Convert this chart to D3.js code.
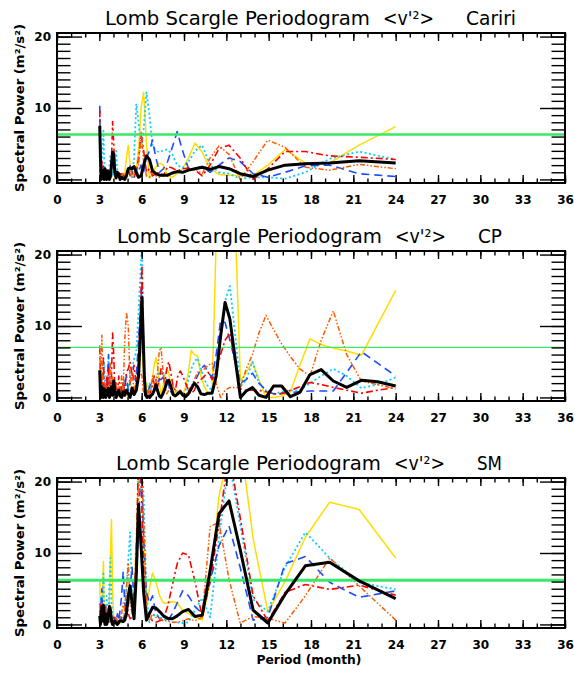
<!DOCTYPE html>
<html>
<head>
<meta charset="utf-8">
<script src="https://cdn.jsdelivr.net/npm/d3@7"></script>
<style>
  body { margin: 0; background: #fff; }
  svg { display: block; }
  .tick text { font-family: 'DejaVu Sans', sans-serif; font-weight: bold; font-size: 12px; fill: #000; }
</style>
</head>
<body>
<svg id="chart" width="574" height="673"></svg>
<script>
'use strict';

// period grid (months) of the Cariri and SM periodograms
var periodsA = [
    3.03,3.08,3.13,3.18,3.23,3.29,3.34,3.40,3.46,3.52,
    3.58,3.65,3.72,3.79,3.86,3.94,4.02,4.10,4.19,4.28,
    4.38,4.47,4.58,4.69,4.80,4.92,5.05,5.18,5.32,5.46,
    5.62,5.78,5.96,6.14,6.34,6.55,6.77,7.01,7.27,7.54,
    7.84,8.17,8.52,8.90,9.32,9.78,10.29,10.85,11.48,12.19,
    12.98,13.90,14.94,16.16,17.60,19.32,21.41,24.00
];

// period grid of the CP periodogram (longer record, finer spacing)
var periodsB = [
    3.03,3.08,3.13,3.18,3.23,3.29,3.34,3.40,3.46,3.52,
    3.58,3.65,3.72,3.79,3.86,3.94,4.02,4.10,4.19,4.28,
    4.38,4.47,4.58,4.69,4.80,4.92,5.05,5.18,5.32,5.46,
    5.62,5.78,
    6.02,6.10,6.19,6.28,6.38,6.47,6.57,6.68,6.78,6.89,
    7.01,7.12,7.25,7.37,7.50,7.64,7.78,7.92,8.07,8.23,
    8.39,8.56,8.73,8.92,9.11,9.31,9.51,9.73,9.96,10.20,
    10.45,10.71,10.99,11.28,11.59,11.91,12.25,12.62,13.00,13.41,
    13.85,14.31,14.81,15.35,15.92,16.54,17.21,17.93,18.72,19.58,
    20.53,21.57,22.72,24.00
];

var caririYellow = [
    0.5,0.2,0.3,0.8,0.5,0.2,0.0,0.5,1.0,0.3,
    0.4,0.2,0.0,0.8,0.3,0.5,1.2,0.5,0.2,0.3,
    0.5,0.0,0.3,0.8,0.8,3.0,4.8,2.0,0.3,0.8,
    1.5,4.0,10.0,12.2,5.0,0.2,0.8,1.8,2.3,2.0,
    0.6,0.3,0.8,1.5,3.0,5.1,3.8,1.5,0.7,0.6,
    0.5,0.6,2.0,4.2,2.3,2.3,4.8,7.4
];
var caririCyan = [
    3.3,1.0,0.3,2.0,4.0,6.8,3.0,0.5,1.5,0.3,
    0.8,0.2,2.0,3.5,1.0,0.5,1.5,3.0,4.0,1.0,
    0.5,0.2,1.0,0.5,0.3,1.0,1.5,0.8,0.3,3.0,
    10.6,8.0,4.2,7.0,12.2,9.0,4.7,4.0,3.8,4.1,
    4.2,3.5,2.0,1.6,2.5,4.0,4.8,2.0,1.0,0.8,
    0.1,0.3,0.3,0.1,1.0,2.9,3.9,2.8
];
var caririBlue = [
    10.3,3.0,0.5,1.0,0.3,2.0,1.0,0.2,0.5,1.5,
    0.3,0.5,1.0,0.2,3.0,2.5,1.0,0.5,1.5,0.3,
    0.5,0.2,0.8,0.3,1.0,0.5,1.2,2.0,1.0,0.5,
    1.5,1.0,2.0,1.0,3.0,4.0,5.5,3.0,1.0,1.5,
    2.5,4.5,6.7,4.0,1.5,1.5,1.8,1.0,2.0,3.0,
    2.5,0.8,0.3,1.0,1.9,2.0,0.8,0.4
];
var caririRed = [
    9.7,4.0,0.5,2.5,1.0,0.3,1.5,0.5,0.0,1.0,
    0.5,1.5,0.3,1.0,2.5,8.1,5.0,1.0,0.5,1.0,
    0.3,0.8,0.2,0.5,0.3,1.0,1.5,0.5,1.0,0.3,
    1.0,3.0,6.3,4.0,1.0,1.5,0.5,0.8,1.0,0.5,
    1.8,1.6,1.2,1.5,1.6,1.3,0.5,2.0,4.3,4.8,
    3.0,0.0,1.5,3.9,3.9,3.3,3.1,2.8
];
var caririOrange = [
    1.5,0.5,2.0,0.3,1.0,0.2,0.5,1.2,0.3,0.8,
    0.2,1.0,0.5,0.3,1.5,4.0,2.0,0.5,0.3,0.8,
    0.2,0.5,0.3,1.0,0.2,0.5,1.0,1.8,0.5,1.0,
    0.5,2.0,6.6,2.5,0.5,0.3,1.0,0.5,0.3,0.8,
    0.5,1.0,1.2,1.0,1.3,1.5,0.8,3.0,4.7,3.5,
    0.0,2.5,5.5,4.5,1.7,1.3,2.1,1.5
];
var caririMean = [
    7.5,3.0,0.0,0.5,1.3,0.2,0.0,1.5,0.5,0.0,
    1.2,0.8,0.0,0.5,2.0,3.8,3.5,1.0,0.2,1.0,
    0.8,0.0,0.3,0.1,0.0,0.5,1.5,1.6,1.5,1.8,
    1.0,0.3,0.5,2.0,3.3,2.8,1.2,0.8,0.6,0.6,
    0.6,0.9,1.1,1.0,1.3,1.5,1.7,1.4,1.8,1.5,
    0.8,0.4,1.3,2.0,2.2,2.3,2.6,2.3
];

var cpYellow = [
    2.0,4.5,1.0,0.5,2.0,0.8,0.3,1.5,0.5,0.2,
    1.0,0.3,2.0,0.8,0.3,1.5,0.5,0.2,1.0,0.5,
    0.3,1.0,0.5,2.0,0.8,0.3,1.2,2.5,0.8,1.5,
    2.0,3.0,
    8.0,4.0,1.5,1.0,2.0,1.5,0.5,1.5,3.0,4.5,
    5.6,4.5,2.0,0.5,1.5,3.0,4.0,3.5,1.5,1.0,
    0.5,1.0,0.8,0.3,1.5,3.5,6.6,6.0,5.8,3.0,
    1.5,0.5,0.9,22.0,28.0,30.0,30.0,25.0,2.3,3.5,
    5.0,2.5,0.0,0.0,0.2,0.8,4.5,8.2,7.4,6.9,
    6.5,5.9,10.2,15.0
];
var cpCyan = [
    1.0,0.5,2.5,1.0,0.3,3.0,5.0,2.0,0.5,1.5,
    3.0,5.5,4.0,1.0,0.5,2.0,1.0,0.3,1.5,0.8,
    0.5,1.5,0.3,1.0,2.5,1.5,0.8,3.0,4.0,5.3,
    6.5,12.0,
    22.0,10.0,3.0,0.5,0.3,1.0,2.0,1.0,0.5,1.5,
    2.5,3.0,3.5,3.7,3.5,2.5,2.0,1.5,0.8,0.5,
    0.3,0.8,1.0,0.5,1.0,2.5,4.0,5.0,5.5,4.0,
    2.5,1.5,1.0,4.0,9.0,13.5,15.6,9.0,1.5,2.5,
    5.0,2.0,1.0,0.5,0.8,1.0,1.0,2.0,3.0,4.0,
    3.0,1.3,1.8,2.8
];
var cpBlue = [
    1.5,0.5,3.0,1.0,0.5,2.0,1.0,0.3,1.5,0.5,
    3.0,6.0,2.0,0.5,1.0,2.5,1.5,0.5,1.0,0.3,
    0.8,0.3,1.5,0.5,2.0,3.0,1.0,2.0,3.5,2.5,
    3.0,8.0,
    16.0,8.0,2.0,0.5,0.3,1.0,1.5,2.0,2.5,2.0,
    1.5,2.0,2.5,2.5,2.8,3.0,2.5,1.5,0.8,0.5,
    0.3,0.5,0.8,0.5,0.3,0.5,1.0,2.0,3.0,4.0,
    4.5,3.5,2.8,6.0,10.7,10.5,8.0,5.0,2.0,2.5,
    3.4,2.0,1.0,0.5,0.6,0.7,0.8,0.9,0.9,0.9,
    3.5,6.4,4.8,3.0
];
var cpRed = [
    7.0,2.0,0.5,3.0,1.0,5.5,2.0,0.5,1.5,3.0,
    1.0,4.0,2.0,0.5,3.0,9.0,6.0,1.0,2.0,0.5,
    3.0,1.0,0.5,2.0,1.0,3.5,4.0,5.0,3.0,4.5,
    1.5,5.0,
    18.5,10.0,2.0,0.5,0.3,1.0,0.5,1.0,2.0,3.0,
    2.5,1.5,2.5,4.0,3.0,2.0,4.0,5.0,3.5,1.5,
    1.0,3.0,3.7,3.0,2.0,1.0,0.5,1.0,2.0,2.5,
    3.0,3.5,2.5,3.5,6.0,8.0,9.0,5.0,1.2,1.0,
    1.0,1.0,0.8,0.5,0.5,1.0,1.5,2.1,1.8,1.4,
    1.0,0.6,1.0,1.4
];
var cpOrange = [
    7.3,3.0,1.0,8.7,4.0,1.0,0.5,2.0,1.0,0.3,
    1.5,0.5,2.0,5.0,1.0,3.0,1.5,0.5,2.0,0.8,
    1.5,0.5,3.0,1.0,8.0,11.9,10.0,2.0,3.5,1.0,
    2.0,4.0,
    3.0,1.0,0.5,0.3,0.5,1.0,0.5,1.5,3.0,2.0,
    1.0,3.5,6.5,7.0,4.0,1.5,0.5,1.0,2.0,1.5,
    1.0,0.5,1.0,0.5,0.3,1.0,1.5,2.5,3.5,3.7,
    4.0,4.5,4.8,2.0,0.0,1.0,1.4,1.4,1.4,4.0,
    6.0,9.0,11.5,9.5,7.5,5.7,4.0,3.0,8.0,12.1,
    6.0,2.3,1.8,1.2
];
var cpMean = [
    3.8,0.5,0.0,1.5,0.3,0.0,1.2,0.2,0.0,1.0,
    0.3,1.3,0.0,0.5,1.5,0.3,2.3,1.0,0.0,0.5,
    1.0,0.2,0.0,0.8,0.3,1.0,0.5,0.0,1.3,0.4,
    1.0,3.0,
    14.0,9.0,3.0,0.3,0.0,0.2,0.0,0.3,0.5,1.0,
    1.8,1.0,0.2,0.0,0.5,1.2,2.2,2.4,1.5,0.4,
    0.2,0.5,0.8,0.3,0.1,0.5,1.2,2.0,1.5,0.5,
    0.4,0.6,0.6,3.0,8.5,13.3,11.0,5.5,0.0,0.9,
    1.4,0.3,0.0,1.6,1.6,0.1,0.7,3.2,3.9,2.3,
    1.4,2.4,2.2,1.6
];

var smYellow = [
    6.4,1.0,3.0,3.0,5.0,8.8,2.0,0.5,1.5,0.3,
    2.0,0.5,4.0,10.0,14.7,5.0,0.5,0.3,0.0,0.2,
    0.0,0.2,0.5,0.3,0.8,2.0,3.5,4.0,2.0,5.0,
    12.0,22.0,24.0,12.0,2.0,5.0,7.2,6.0,4.0,3.0,
    3.0,3.2,3.0,2.0,1.5,1.0,0.6,6.0,18.0,24.0,
    26.0,12.0,1.8,6.0,12.2,17.1,16.1,9.3
];
var smCyan = [
    3.0,1.0,4.0,2.0,3.0,7.4,1.5,0.5,2.0,4.0,
    2.0,1.0,6.0,9.3,3.0,1.0,0.5,0.2,0.5,0.3,
    0.5,1.0,0.3,0.8,2.0,5.0,9.0,12.9,4.0,2.0,
    8.0,22.0,24.0,18.0,4.0,0.3,1.0,1.5,1.0,0.8,
    0.5,0.3,0.3,0.2,0.3,2.0,3.7,1.0,12.0,23.0,
    14.0,3.5,1.8,8.0,12.9,9.3,5.9,4.9
];
var smBlue = [
    2.0,0.5,3.0,5.0,1.0,2.5,0.5,3.0,1.5,0.3,
    1.0,2.0,0.5,1.0,0.3,0.5,1.0,0.8,0.3,1.5,
    0.5,2.0,4.0,7.4,3.0,1.0,2.5,5.0,8.0,3.0,
    6.0,14.0,23.0,12.0,4.5,3.0,4.0,1.5,0.8,0.5,
    0.5,1.5,3.0,4.7,4.0,2.5,1.5,6.0,11.0,13.8,
    8.0,0.6,1.0,8.5,9.5,5.9,3.8,4.7
];
var smRed = [
    1.0,3.0,0.5,2.0,0.8,0.3,1.5,0.5,2.5,0.5,
    1.0,0.3,2.0,0.5,1.0,0.3,0.5,1.0,0.3,0.5,
    0.2,0.5,1.0,0.5,1.5,3.0,1.5,0.8,1.0,3.0,
    10.0,24.0,20.0,8.0,2.0,1.0,0.5,0.3,0.5,0.8,
    2.5,5.5,8.5,10.0,9.7,6.0,1.0,6.0,14.0,24.0,
    15.0,4.0,0.5,4.5,5.6,4.9,5.5,4.1
];
var smOrange = [
    0.5,2.0,1.0,3.0,0.5,1.5,2.5,0.3,1.0,2.0,
    0.5,1.0,0.3,1.5,0.5,0.2,0.5,0.3,1.0,0.5,
    0.3,0.8,1.5,3.0,2.0,5.0,8.6,3.0,1.5,2.5,
    8.0,18.0,24.0,15.0,2.0,0.5,1.5,1.0,0.8,0.5,
    0.5,0.3,0.3,0.5,0.8,0.5,1.0,13.7,14.3,6.3,
    0.2,1.1,0.85,0.2,4.0,9.3,5.4,0.6
];
var smMean = [
    1.2,0.0,1.0,2.5,0.5,2.7,1.0,0.0,1.5,0.0,
    0.5,1.5,2.5,2.0,0.5,0.0,0.3,0.5,0.2,0.0,
    0.3,0.5,0.5,0.4,0.6,1.5,4.0,5.4,3.0,0.8,
    7.0,16.8,11.0,4.5,0.6,1.5,2.4,2.3,1.8,1.2,
    0.85,0.8,1.2,1.8,2.1,1.1,1.3,7.5,15.5,17.3,
    10.5,2.0,0.2,4.2,8.2,8.7,6.1,3.6
];

// significance level of each station
var stations = ['Cariri', 'CP', 'SM'];
var significance = [6.3, 7.0, 6.2];
var xTickValues = [0, 3, 6, 9, 12, 15, 18, 21, 24, 27, 30, 33, 36];
var yTickValues = [0, 10, 20];

var panels = [
    { station: stations[0], periods: periodsA, sig: significance[0],
      series: { yellow: caririYellow, cyan: caririCyan, blue: caririBlue, red: caririRed, orange: caririOrange, mean: caririMean } },
    { station: stations[1], periods: periodsB, sig: significance[1],
      series: { yellow: cpYellow, cyan: cpCyan, blue: cpBlue, red: cpRed, orange: cpOrange, mean: cpMean } },
    { station: stations[2], periods: periodsA, sig: significance[2],
      series: { yellow: smYellow, cyan: smCyan, blue: smBlue, red: smRed, orange: smOrange, mean: smMean } }
];

var styles = {
    yellow: { color: '#ffdd00', width: 1.5, dash: null },
    cyan:   { color: '#11ccff', width: 1.8, dash: '2,2.5' },
    blue:   { color: '#1a4dff', width: 1.6, dash: '8,5' },
    red:    { color: '#ff0000', width: 1.6, dash: '7,3,2,3' },
    orange: { color: '#ff5a00', width: 1.5, dash: '5,2,1.5,2,1.5,2' },
    mean:   { color: '#000000', width: 3, dash: null }
};
var drawOrder = ['yellow', 'cyan', 'blue', 'red', 'orange'];

var layout = {
    left: 57, right: 565, height: 150,
    tops: [33, 251, 478],
    greenWidth: [2.5, 1.2, 3],
    titleStart: [105, 117, 116],
    stationWidth: [50, 24, 25]
};

var svg = d3.select('#chart');
var x = d3.scaleLinear().domain([0, 36]).range([layout.left, layout.right]);

panels.forEach(function( p, i ){
    var top = layout.tops[i],
        bottom = top + layout.height,
        y = d3.scaleLinear().domain([-0.5, 20.5]).range([bottom, top]),
        g = svg.append('g'),
        clipId = 'clip' + i,
        plot,
        line;

    svg.append('clipPath').attr('id', clipId)
        .append('rect')
        .attr('x', layout.left).attr('y', top)
        .attr('width', layout.right - layout.left).attr('height', layout.height);

    plot = g.append('g').attr('clip-path', 'url(#' + clipId + ')');

    line = d3.line()
        .x(function( d ){ return x(d[0]); })
        .y(function( d ){ return y(d[1]); });

    drawOrder.forEach(function( key ){
        var st = styles[key];
        plot.append('path')
            .datum(d3.zip(p.periods, p.series[key]))
            .attr('fill', 'none')
            .attr('stroke', st.color)
            .attr('stroke-width', st.width)
            .attr('stroke-dasharray', st.dash)
            .attr('stroke-linejoin', 'round')
            .attr('d', line);
    });

    // significance level
    plot.append('line')
        .attr('x1', x(0)).attr('x2', x(36))
        .attr('y1', y(p.sig)).attr('y2', y(p.sig))
        .attr('stroke', '#3ae868')
        .attr('stroke-width', layout.greenWidth[i]);

    // station mean
    plot.append('path')
        .datum(d3.zip(p.periods, p.series.mean))
        .attr('fill', 'none')
        .attr('stroke', styles.mean.color)
        .attr('stroke-width', styles.mean.width)
        .attr('stroke-linejoin', 'round')
        .attr('d', line);

    // axes, ticks pointing inward
    function addAxis( axis, tx, ty ){
        var a = g.append('g')
            .attr('transform', 'translate(' + tx + ',' + ty + ')')
            .call(axis);
        a.select('.domain').remove();
        a.selectAll('.tick line').attr('stroke', '#000').attr('stroke-width', 1.4);
        return a;
    }

    var xMinor = d3.range(0, 37);
    addAxis(d3.axisBottom(x).tickValues(xMinor).tickSize(-4.5).tickFormat(''), 0, bottom);
    addAxis(d3.axisBottom(x).tickValues(xTickValues).tickSize(-8).tickPadding(12).tickFormat(d3.format('d')), 0, bottom);
    addAxis(d3.axisTop(x).tickValues(xMinor).tickSize(-4.5).tickFormat(''), 0, top);
    addAxis(d3.axisTop(x).tickValues(xTickValues).tickSize(-8).tickFormat(''), 0, top);

    var yMinor = d3.range(0, 21);
    addAxis(d3.axisLeft(y).tickValues(yMinor).tickSize(-13.5).tickFormat(''), layout.left, 0);
    addAxis(d3.axisLeft(y).tickValues(yTickValues).tickSize(-25).tickPadding(6).tickFormat(d3.format('d')), layout.left, 0);
    addAxis(d3.axisRight(y).tickValues(yMinor).tickSize(-13.5).tickFormat(''), layout.right, 0);
    addAxis(d3.axisRight(y).tickValues(yTickValues).tickSize(-25).tickFormat(''), layout.right, 0);

    g.append('rect')
        .attr('x', layout.left).attr('y', top)
        .attr('width', layout.right - layout.left).attr('height', layout.height)
        .attr('fill', 'none')
        .attr('stroke', '#000')
        .attr('stroke-width', 2);

    // title in three pieces, as spaced in the original
    var title = g.append('g')
        .attr('font-family', "'DejaVu Sans', sans-serif")
        .attr('font-size', 19)
        .attr('fill', '#000');
    var x0 = layout.titleStart[i];
    title.append('text').attr('x', x0).attr('y', top - 8)
        .attr('textLength', 265).attr('lengthAdjust', 'spacingAndGlyphs')
        .text('Lomb Scargle Periodogram');
    title.append('text').attr('x', x0 + 278).attr('y', top - 8)
        .attr('textLength', 51).attr('lengthAdjust', 'spacingAndGlyphs')
        .text("<v'\u00b2>");
    title.append('text').attr('x', x0 + 361).attr('y', top - 8)
        .attr('textLength', layout.stationWidth[i]).attr('lengthAdjust', 'spacingAndGlyphs')
        .text(p.station);

    g.append('text')
        .attr('transform', 'translate(24,' + (top + 75) + ') rotate(-90)')
        .attr('text-anchor', 'middle')
        .attr('font-family', "'DejaVu Sans', sans-serif")
        .attr('font-weight', 'bold')
        .attr('font-size', 12.5)
        .attr('textLength', 168)
        .attr('lengthAdjust', 'spacingAndGlyphs')
        .text('Spectral Power (m\u00b2/s\u00b2)');
});

svg.append('text')
    .attr('x', 309).attr('y', 664)
    .attr('text-anchor', 'middle')
    .attr('font-family', "'DejaVu Sans', sans-serif")
    .attr('font-weight', 'bold')
    .attr('font-size', 12.5)
    .attr('textLength', 105)
    .attr('lengthAdjust', 'spacingAndGlyphs')
    .text('Period (month)');
</script>
</body>
</html>
